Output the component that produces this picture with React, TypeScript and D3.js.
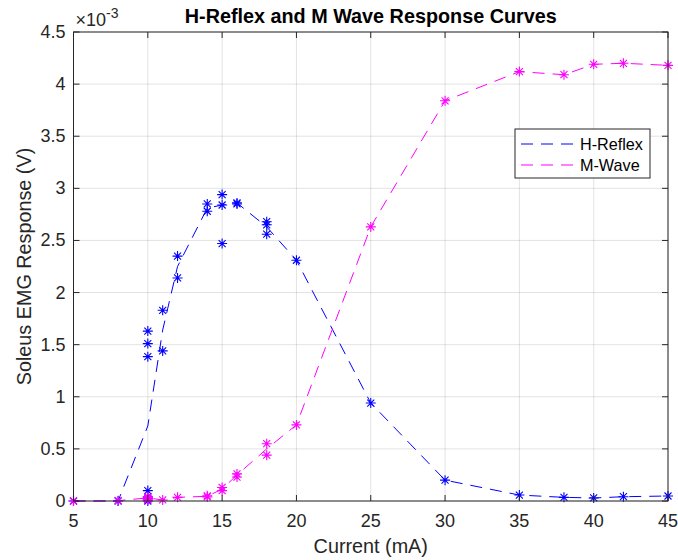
import React from "react";
import * as d3 from "d3";

// Stimulation current levels (mA) for the mean response curves
const currentLevels = [5, 8, 10, 11, 12, 14, 15, 16, 18, 20, 25, 30, 35, 38, 40, 42, 45];
// Mean responses (×10^-3 V)
const hReflexMean = [0, 0, 0.72, 1.64, 2.25, 2.81, 2.84, 2.86, 2.63, 2.31, 0.94, 0.2, 0.057, 0.035, 0.029, 0.041, 0.048];
const mWaveMean = [0, 0.003, 0.03, 0.01, 0.035, 0.045, 0.115, 0.25, 0.5, 0.73, 2.63, 3.84, 4.12, 4.09, 4.19, 4.2, 4.18];

// Individual trials (×10^-3 V)
const hTrialCurrent = [5, 8, 10, 10, 10, 10, 10, 10, 10, 11, 11, 12, 12, 14, 14, 15, 15, 15, 16, 16, 18, 18, 18, 20, 25, 30, 35, 38, 40, 42, 45];
const hTrialValue = [0, 0, 1.63, 1.51, 1.385, 0.1, 0.04, 0.02, 0.0, 1.83, 1.44, 2.35, 2.14, 2.85, 2.78, 2.94, 2.84, 2.47, 2.86, 2.85, 2.68, 2.65, 2.56, 2.31, 0.94, 0.2, 0.057, 0.035, 0.029, 0.041, 0.048];
const mTrialCurrent = [5, 8, 10, 10, 10, 10, 11, 12, 14, 14, 15, 15, 16, 16, 18, 18, 20, 25, 30, 35, 38, 40, 42, 45];
const mTrialValue = [0, 0.003, 0.04, 0.03, 0.02, 0.01, 0.01, 0.035, 0.04, 0.05, 0.13, 0.1, 0.26, 0.23, 0.55, 0.44, 0.73, 2.63, 3.84, 4.12, 4.09, 4.19, 4.2, 4.18];

const xTicks = [5, 10, 15, 20, 25, 30, 35, 40, 45];
const yTicks = [0, 0.5, 1, 1.5, 2, 2.5, 3, 3.5, 4, 4.5];
const seriesNames = ["H-Reflex", "M-Wave"];

const W = 678;
const H = 560;
const M = { left: 73.5, right: 668, top: 32, bottom: 501 };
const FONT = "'Liberation Sans', Arial, Helvetica, sans-serif";
const AX = "#262626";
const BLUE = "#0000ff";
const MAG = "#ff00ff";
const DASH = "12,8";
const STAR = "M-5,0H5M0,-5V5M-3.5,-3.5L3.5,3.5M-3.5,3.5L3.5,-3.5";

export default function App() {
  const x = d3.scaleLinear().domain([5, 45]).range([M.left, M.right]);
  const y = d3.scaleLinear().domain([0, 4.5]).range([M.bottom, M.top]);
  const line = d3
    .line<[number, number]>()
    .x((d) => x(d[0]))
    .y((d) => y(d[1]));
  const hPath = line(currentLevels.map((c, i) => [c, hReflexMean[i]]) as [number, number][]) || "";
  const mPath = line(currentLevels.map((c, i) => [c, mWaveMean[i]]) as [number, number][]) || "";
  const tl = 6;

  return (
    <svg width={W} height={H} style={{ position: "absolute", left: 0, top: 0, background: "#fff" }} fontFamily={FONT}>
      <rect x={0} y={0} width={W} height={H} fill="#fff" />
      {/* grid */}
      <g stroke={AX} strokeOpacity={0.13} strokeWidth={1}>
        {xTicks.map((t) => (
          <line key={"gx" + t} x1={x(t)} x2={x(t)} y1={M.top} y2={M.bottom} />
        ))}
        {yTicks.map((t) => (
          <line key={"gy" + t} x1={M.left} x2={M.right} y1={y(t)} y2={y(t)} />
        ))}
      </g>
      {/* mean lines */}
      <path d={hPath} fill="none" stroke={BLUE} strokeWidth={1} strokeDasharray={DASH} />
      <path d={mPath} fill="none" stroke={MAG} strokeWidth={1} strokeDasharray={DASH} />
      {/* trial markers */}
      <g stroke={BLUE} strokeWidth={1.1} fill="none">
        {hTrialCurrent.map((c, i) => (
          <path key={"h" + i} d={STAR} transform={`translate(${x(c)},${y(hTrialValue[i])})`} />
        ))}
      </g>
      <g stroke={MAG} strokeWidth={1.1} fill="none">
        {mTrialCurrent.map((c, i) => (
          <path key={"m" + i} d={STAR} transform={`translate(${x(c)},${y(mTrialValue[i])})`} />
        ))}
      </g>
      {/* axes box and ticks */}
      <g stroke={AX} strokeWidth={1} fill="none">
        <rect x={M.left} y={M.top} width={M.right - M.left} height={M.bottom - M.top} />
        {xTicks.map((t) => (
          <g key={"tx" + t}>
            <line x1={x(t)} x2={x(t)} y1={M.bottom} y2={M.bottom - tl} />
            <line x1={x(t)} x2={x(t)} y1={M.top} y2={M.top + tl} />
          </g>
        ))}
        {yTicks.map((t) => (
          <g key={"ty" + t}>
            <line x1={M.left} x2={M.left + tl} y1={y(t)} y2={y(t)} />
            <line x1={M.right} x2={M.right - tl} y1={y(t)} y2={y(t)} />
          </g>
        ))}
      </g>
      {/* tick labels */}
      <g fill={AX} fontSize={18}>
        {xTicks.map((t) => (
          <text key={"lx" + t} x={x(t)} y={M.bottom + 26} textAnchor="middle">
            {t}
          </text>
        ))}
        {yTicks.map((t) => (
          <text key={"ly" + t} x={M.left - 8} y={y(t) + 6} textAnchor="end">
            {t}
          </text>
        ))}
      </g>
      {/* exponent */}
      <text x={M.left + 2} y={26} fill={AX} fontSize={18}>
        ×10
        <tspan dy={-8} fontSize={14}>-3</tspan>
      </text>
      {/* title and labels */}
      <text x={(M.left + M.right) / 2} y={23} textAnchor="middle" fontWeight="bold" fontSize={19.8} fill="#000">
        H-Reflex and M Wave Response Curves
      </text>
      <text x={(M.left + M.right) / 2} y={553} textAnchor="middle" fontSize={19.8} fill={AX}>
        Current (mA)
      </text>
      <text
        transform={`translate(31,${(M.top + M.bottom) / 2}) rotate(-90)`}
        textAnchor="middle"
        fontSize={19.8}
        fill={AX}
      >
        Soleus EMG Response (V)
      </text>
      {/* legend */}
      <g>
        <rect x={515} y={129} width={135} height={49} fill="#fff" stroke={AX} strokeWidth={1} />
        {seriesNames.map((name, i) => (
          <g key={name}>
            <line
              x1={521}
              x2={573}
              y1={144 + i * 21}
              y2={144 + i * 21}
              stroke={i === 0 ? BLUE : MAG}
              strokeWidth={1}
              strokeDasharray={DASH}
            />
            <text x={580} y={144 + i * 21 + 6} fontSize={16.2} fill="#000">
              {name}
            </text>
          </g>
        ))}
      </g>
    </svg>
  );
}
